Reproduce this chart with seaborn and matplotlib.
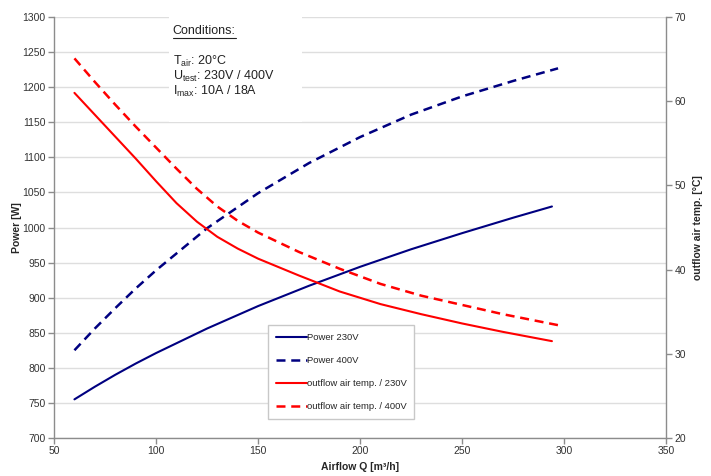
import numpy as np
import pandas as pd
import seaborn as sns
import matplotlib.pyplot as plt
from matplotlib.patches import Rectangle

# --- data ---
q_p230 = [60, 70, 80, 90, 100, 125, 150, 175, 200, 225, 250, 275, 294]
power_230 = [755, 773, 790, 806, 821, 856, 888, 917, 944, 969, 992, 1014, 1030]

q_p400 = [60, 70, 80, 90, 100, 125, 150, 175, 200, 225, 250, 275, 297]
power_400 = [825, 856, 885, 913, 939, 999, 1049, 1092, 1129, 1161, 1187, 1209, 1227]

q_t230 = [60, 70, 80, 90, 100, 110, 120, 130, 140, 150, 170, 190, 210, 230, 250, 270, 294]
temp_230 = [61.0, 58.4, 55.8, 53.2, 50.5, 47.9, 45.7, 43.9, 42.5, 41.3, 39.3, 37.4,
            35.9, 34.7, 33.6, 32.6, 31.5]

q_t400 = [60, 70, 80, 90, 100, 110, 120, 130, 140, 150, 170, 190, 210, 230, 250, 270, 297]
temp_400 = [65.1, 62.3, 59.6, 57.0, 54.5, 52.0, 49.6, 47.5, 45.8, 44.4, 42.1, 40.1,
            38.3, 36.9, 35.8, 34.7, 33.4]

x_ticks = [50, 100, 150, 200, 250, 300, 350]
power_ticks = list(range(700, 1301, 50))
temp_ticks = [20, 30, 40, 50, 60, 70]

labels = ['Power 230V', 'Power 400V', 'outflow air temp. / 230V', 'outflow air temp. / 400V']

# --- style ---
sns.set_style('white')
plt.rcParams['font.family'] = ['Liberation Sans', 'DejaVu Sans']
plt.rcParams['mathtext.fontset'] = 'custom'
plt.rcParams['mathtext.rm'] = 'Liberation Sans'
plt.rcParams['mathtext.default'] = 'regular'

blue = '#000080'
red = '#ff0000'
axis_gray = '#8c8c8c'
grid_gray = '#dedede'
dash = (0, (3.6, 2.3))

fig = plt.figure(figsize=(7.11, 4.76), dpi=100)
ax = fig.add_axes([0.076, 0.08, 0.861, 0.884])
ax2 = ax.twinx()

sns.lineplot(x=q_p230, y=power_230, ax=ax, color=blue, lw=1.5, label=labels[0], legend=False)
sns.lineplot(x=q_p400, y=power_400, ax=ax, color=blue, lw=1.8,
             linestyle=dash, label=labels[1], legend=False)
sns.lineplot(x=q_t230, y=temp_230, ax=ax2, color=red, lw=1.5, label=labels[2], legend=False)
sns.lineplot(x=q_t400, y=temp_400, ax=ax2, color=red, lw=1.8,
             linestyle=dash, label=labels[3], legend=False)

ax.set_xlim(50, 350)
ax.set_ylim(700, 1300)
ax2.set_ylim(20, 70)
ax.set_xticks(x_ticks)
ax.set_yticks(power_ticks)
ax2.set_yticks(temp_ticks)

ax.yaxis.grid(True, color=grid_gray, lw=1)
ax.set_axisbelow(True)

for a in (ax, ax2):
    a.spines['top'].set_visible(False)
    for s in ('left', 'right', 'bottom'):
        a.spines[s].set_color(axis_gray)
        a.spines[s].set_linewidth(1)
    a.tick_params(axis='both', direction='out', length=4, width=1, color=axis_gray,
                  labelsize=7.5, labelcolor='#333333', pad=2)
ax.spines['right'].set_visible(False)
ax2.spines['left'].set_visible(False)
ax2.spines['bottom'].set_visible(False)
ax.tick_params(axis='y', left=True)
ax.tick_params(axis='x', bottom=True)
ax2.tick_params(axis='y', right=True)

ax.set_xlabel('Airflow Q [m³/h]', fontsize=7.5, fontweight='bold', labelpad=4)
ax.set_ylabel('Power [W]', fontsize=7.5, fontweight='bold', labelpad=0)
ax2.set_ylabel('outflow air temp. [°C]', fontsize=7.5, fontweight='bold', labelpad=5)

# conditions box
ax.add_patch(Rectangle((0.188, 0.75), 0.217, 0.25, transform=ax.transAxes,
                       facecolor='white', edgecolor='none', zorder=1.5))
txt_kw = dict(transform=ax.transAxes, fontsize=9, va='baseline', ha='left',
              color='#222222', zorder=3)
t = ax.text(0.194, 0.960, 'Conditions:', **txt_kw)
ax.text(0.194, 0.886, 'T$_{air}$: 20°C', **txt_kw)
ax.text(0.194, 0.850, 'U$_{test}$: 230V / 400V', **txt_kw)
ax.text(0.194, 0.815, 'I$_{max}$: 10A / 18A', **txt_kw)

fig.canvas.draw()
bb = t.get_window_extent().transformed(ax.transAxes.inverted())
ax.plot([bb.x0, bb.x1], [bb.y0 - 0.002, bb.y0 - 0.002], transform=ax.transAxes,
        color='#222222', lw=0.8, zorder=3)

# legend
h1, l1 = ax.get_legend_handles_labels()
h2, l2 = ax2.get_legend_handles_labels()
leg = ax2.legend(h1 + h2, l1 + l2, loc='lower left', bbox_to_anchor=(0.35, 0.045),
                 prop={'size': 6.8}, frameon=True, fancybox=False, framealpha=1,
                 edgecolor='#c8c8c8', handlelength=3.3, handletextpad=0.0,
                 labelspacing=1.5, borderpad=0.8, borderaxespad=0)
leg.get_frame().set_linewidth(1)

plt.savefig('out.png', dpi=100)
